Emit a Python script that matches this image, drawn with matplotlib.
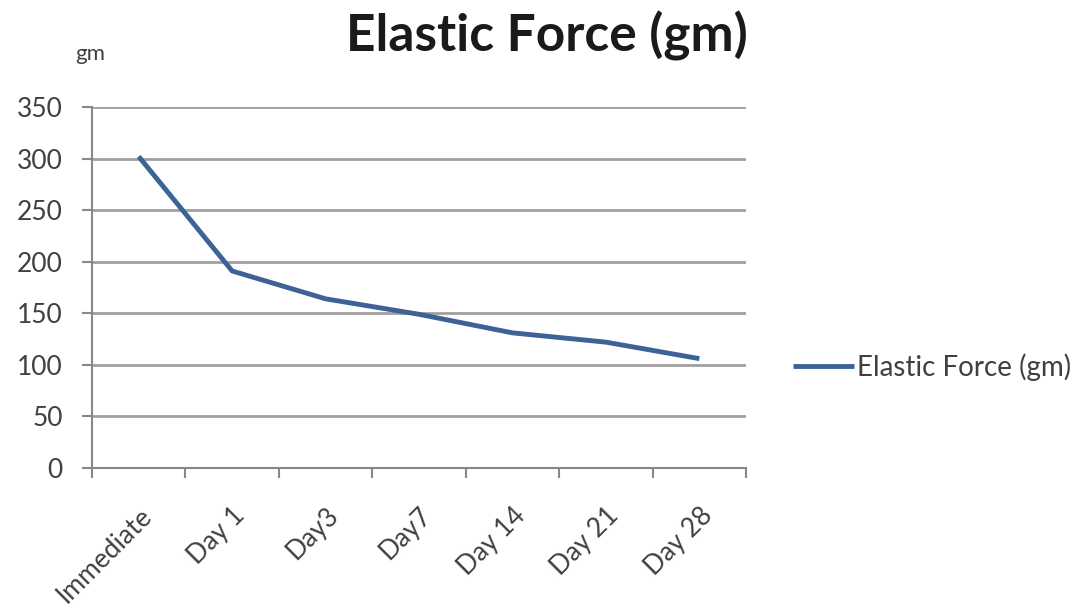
import matplotlib.pyplot as plt

# data
days = ["Immediate", "Day 1", "Day3", "Day7", "Day 14", "Day 21", "Day 28"]
force = [302, 191, 164, 149, 131, 122, 106]
yticks = [0, 50, 100, 150, 200, 250, 300, 350]

plt.rcParams['font.family'] = ['Lato', 'DejaVu Sans']

fig = plt.figure(figsize=(10.86, 6.16), dpi=100)
ax = fig.add_axes([0.0847, 0.2403, 0.6023, 0.586])

x = list(range(len(days)))
ax.plot(x, force, color='#3d6296', linewidth=3.5, label='Elastic Force (gm)',
        solid_joinstyle='round', solid_capstyle='butt')

ax.set_xlim(-0.5, len(days) - 0.5)
ax.set_ylim(0, 350)
ax.set_yticks(yticks)
ax.set_yticklabels([str(v) for v in yticks], fontsize=19, color='#404040')

# category labels at centres, tick marks at boundaries
ax.set_xticks(x)
ax.set_xticklabels(days, rotation=45, ha='right', rotation_mode='anchor',
                   fontsize=19, color='#404040')
ax.tick_params(axis='x', which='major', length=0, pad=25)
ax.set_xticks([i - 0.5 for i in range(len(days) + 1)], minor=True)
ax.tick_params(axis='x', which='minor', length=7, width=1.5, color='#888888', direction='out')
ax.tick_params(axis='y', length=7, width=1.5, color='#888888', pad=14)

ax.grid(axis='y', color='#a0a0a0', linewidth=2)
ax.set_axisbelow(True)
for side in ['top', 'right']:
    ax.spines[side].set_visible(False)
for side in ['left', 'bottom']:
    ax.spines[side].set_color('#888888')
    ax.spines[side].set_linewidth(1.5)

fig.text(0.504, 0.9156, 'Elastic Force (gm)', ha='center', va='baseline',
         fontsize=37, fontweight='bold', color='#1a1a1a')
fig.text(0.069, 0.912, 'gm', ha='left', va='center', fontsize=16, color='#404040')

ax.legend(loc='center left', bbox_to_anchor=(1.034, 0.28), frameon=False,
          fontsize=20, handlelength=2.2, handletextpad=0.1, labelcolor='#404040')

fig.savefig('out.png', dpi=100)
